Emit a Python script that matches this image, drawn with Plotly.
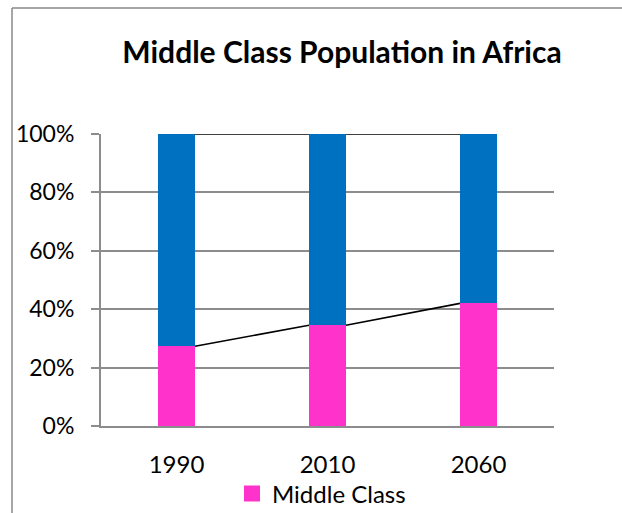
import plotly.graph_objects as go

years = ["1990", "2010", "2060"]
middle_share = [0.273, 0.345, 0.42]
other_share = [0.727, 0.655, 0.58]
y_ticks = [0, 0.2, 0.4, 0.6, 0.8, 1.0]

PINK = "#FF33CC"
BLUE = "#0070C0"
GRID = "#8C8C8C"
FONT = "Lato"
BW = 0.245

xpos = list(range(len(years)))

fig = go.Figure()
fig.add_trace(go.Bar(x=xpos, y=middle_share, width=BW, marker=dict(color=PINK, line=dict(width=0)),
                     showlegend=False, name="Middle Class"))
fig.add_trace(go.Bar(x=xpos, y=other_share, width=BW, marker=dict(color=BLUE, line=dict(width=0)),
                     showlegend=False, name="Other"))

# series lines (Excel style) connecting the tops of each stacked segment
cum_mid = middle_share
cum_tot = [m + o for m, o in zip(middle_share, other_share)]
lx, ly = [], []
for cum in (cum_mid, cum_tot):
    for i in range(len(years) - 1):
        lx += [xpos[i] + BW / 2, xpos[i + 1] - BW / 2, None]
        ly += [cum[i], cum[i + 1], None]
fig.add_trace(go.Scatter(x=lx, y=ly, mode="lines", line=dict(color="black", width=1.6),
                         showlegend=False, hoverinfo="skip"))

# legend entry
fig.add_trace(go.Scatter(x=[None], y=[None], mode="markers", name="Middle Class",
                         marker=dict(symbol="square", size=16, color=PINK)))

L, R, T, B = 101, 68, 134, 87
W, H = 622, 513
pw, ph = W - L - R, H - T - B

def px(x):
    return (x - L) / pw

def py(y):
    return (H - B - y) / ph

fig.update_layout(
    width=W, height=H,
    margin=dict(l=L, r=R, t=T, b=B, autoexpand=False),
    paper_bgcolor="white", plot_bgcolor="white",
    barmode="stack",
    font=dict(family=FONT, color="black", size=23),
    title=dict(text="<b>Middle Class Population in Africa</b>", x=px(342), xanchor="center",
               xref="paper", y=(H - 52) / H, yanchor="middle", font=dict(size=30, family=FONT)),
    legend=dict(orientation="h", x=px(232), xanchor="left", y=py(494), yanchor="middle",
                font=dict(size=24, family=FONT), bgcolor="rgba(0,0,0,0)"),
    xaxis=dict(range=[-0.5, 2.5], tickvals=xpos, ticktext=years, showgrid=False,
               zeroline=False, showline=True, linecolor=GRID, linewidth=2, ticks="",
               tickfont=dict(size=24), ticklabelstandoff=16, automargin=False),
    yaxis=dict(range=[0, 1], tickvals=y_ticks, tickformat=".0%", showgrid=True, gridcolor=GRID,
               gridwidth=2, zeroline=False, showline=True, linecolor=GRID, linewidth=2,
               ticks="outside", ticklen=8, tickwidth=2, tickcolor=GRID, ticklabelstandoff=12,
               automargin=False),
    shapes=[
        dict(type="line", xref="paper", yref="paper", x0=px(12), x1=px(12), y0=py(8), y1=py(513),
             line=dict(color="#888888", width=1.5)),
        dict(type="line", xref="paper", yref="paper", x0=px(12), x1=px(622), y0=py(8), y1=py(8),
             line=dict(color="#888888", width=1.5)),
    ],
)

fig.write_html("out.html", config={"displayModeBar": False},
               post_script="document.body.style.margin='0';")
